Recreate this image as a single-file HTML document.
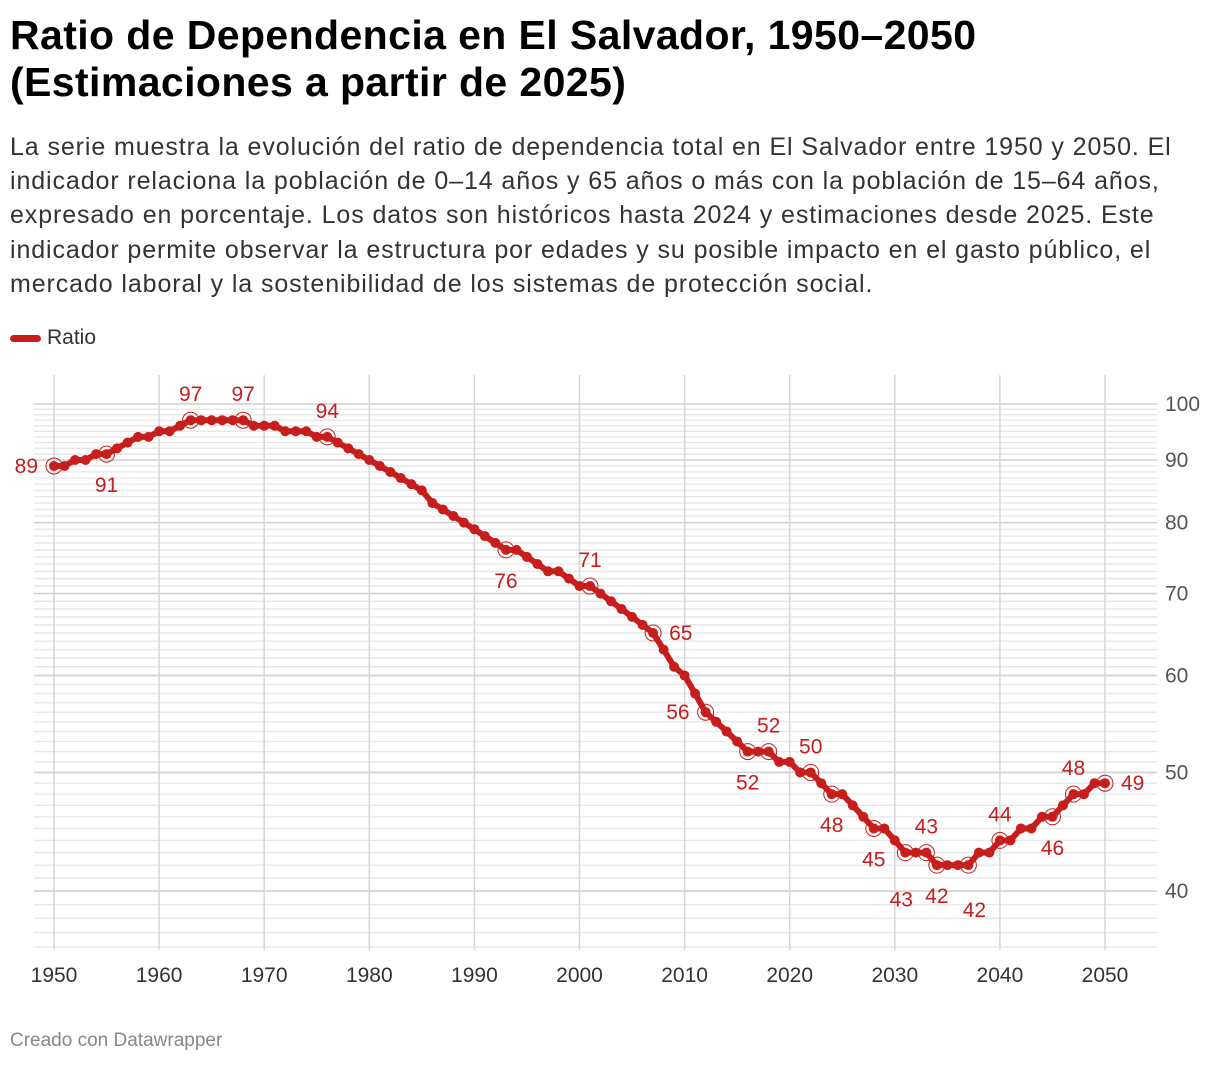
<!DOCTYPE html>
<html><head><meta charset="utf-8"><style>
body{margin:0;background:#fff;font-family:"Liberation Sans",sans-serif;}
#wrap{position:relative;width:1220px;height:1066px;overflow:hidden}
h1{position:absolute;left:10px;top:12px;margin:0;font-size:41px;line-height:47px;font-weight:bold;color:#000;letter-spacing:0.4px;white-space:nowrap}
p.desc{position:absolute;left:10px;top:130px;margin:0;font-size:25px;line-height:34.2px;color:#333;white-space:nowrap;letter-spacing:0.9px}
.legend{position:absolute;left:10px;top:326px;font-size:21px;color:#333}
.legend span{display:inline-block;width:31px;height:7px;border-radius:4px;background:#c71e1d;vertical-align:middle;margin-right:6px}
.foot{position:absolute;left:10px;top:1030px;font-size:19px;color:#888}
</style></head><body><div id="wrap">
<h1>Ratio de Dependencia en El Salvador, 1950–2050<br>(Estimaciones a partir de 2025)</h1>
<p class="desc">La serie muestra la evolución del ratio de dependencia total en El Salvador entre 1950 y 2050. El<br>indicador relaciona la población de 0–14 años y 65 años o más con la población de 15–64 años,<br>expresado en porcentaje. Los datos son históricos hasta 2024 y estimaciones desde 2025. Este<br>indicador permite observar la estructura por edades y su posible impacto en el gasto público, el<br>mercado laboral y la sostenibilidad de los sistemas de protección social.</p>
<div class="legend"><span></span>Ratio</div>
<svg id="chart" width="1220" height="1066" style="position:absolute;left:0;top:0"></svg>
<div class="foot">Creado con Datawrapper</div>
</div>
<script>
const years=[];for(let y=1950;y<=2050;y++)years.push(y);
const values=[89,89,90,90,91,91,92,93,94,94,95,95,96,97,97,97,97,97,97,96,96,96,95,95,95,94,94,93,92,91,90,89,88,87,86,85,83,82,81,80,79,78,77,76,76,75,74,73,73,72,71,71,70,69,68,67,66,65,63,61,60,58,56,55,54,53,52,52,52,51,51,50,50,49,48,48,47,46,45,45,44,43,43,43,42,42,42,42,43,43,44,44,45,45,46,46,47,48,48,49,49];
const xTicks=[1950,1960,1970,1980,1990,2000,2010,2020,2030,2040,2050];
const yTicks=[40,50,60,70,80,90,100];
const annoYears=[1950,1955,1963,1968,1976,1993,2001,2007,2012,2016,2018,2022,2024,2028,2031,2033,2034,2037,2040,2045,2047,2050];
const annoPos=['l','b','t','t','t','b','t','r','l','b','t','t','b','bl','b2','t','b','b3','t','b','t','r'];
const NS='http://www.w3.org/2000/svg';
const svg=document.getElementById('chart');
const X=y=>54+(y-1950)*10.51;
const Y=v=>404+(2-Math.log10(v))*1224;
function mk(t,a){const e=document.createElementNS(NS,t);for(const k in a)e.setAttribute(k,a[k]);svg.appendChild(e);return e;}
for(let v=36;v<=100;v++){
 const l=mk('line',{x1:34,x2:1157,y1:Y(v),y2:Y(v),stroke:v%10==0?'#d0d0d0':'#e8e8e8','stroke-width':v%10==0?1.6:1.4});
 
 
}
yTicks.forEach(v=>{const t=mk('text',{x:1165,y:Y(v)+7,'font-size':21,fill:'#555'});t.textContent=v;
 
 });
xTicks.forEach(v=>{const l=mk('line',{x1:X(v),x2:X(v),y1:375,y2:950,stroke:'#d6d6d6','stroke-width':1.5});
 
 
 const t=mk('text',{x:X(v),y:982,'font-size':21,fill:'#333','text-anchor':'middle'});t.textContent=v;
 
 });
const pts=years.map((y,i)=>X(y)+','+Y(values[i])).join(' ');
const pl=mk('polyline',{points:pts,fill:'none',stroke:'#c71e1d','stroke-width':6,'stroke-linejoin':'round'});


years.forEach((y,i)=>{const c=mk('circle',{cx:X(y),cy:Y(values[i]),r:5,fill:'#c71e1d'});
 
 });
annoYears.forEach((y,k)=>{const v=values[y-1950];const cx=X(y),cy=Y(v);
 const r=mk('circle',{cx:cx,cy:cy,r:8,fill:'none',stroke:'#c71e1d','stroke-width':1});
 
 
 const p=annoPos[k];let tx=cx,ty=cy,an='middle';
 if(p=='t'){ty=cy-19;}else if(p=='b'){ty=cy+38;}else if(p=='b2'){tx=cx-4;ty=cy+54;}else if(p=='b3'){tx=cx+6;ty=cy+52;}else if(p=='l'){tx=cx-16;ty=cy+7;an='end';}else if(p=='r'){tx=cx+16;ty=cy+7;an='start';}else if(p=='bl'){tx=cx;ty=cy+38;}
 const t=mk('text',{x:tx,y:ty,'font-size':21,fill:'#c71e1d','text-anchor':an});t.textContent=v;
 
 });
</script></body></html>
